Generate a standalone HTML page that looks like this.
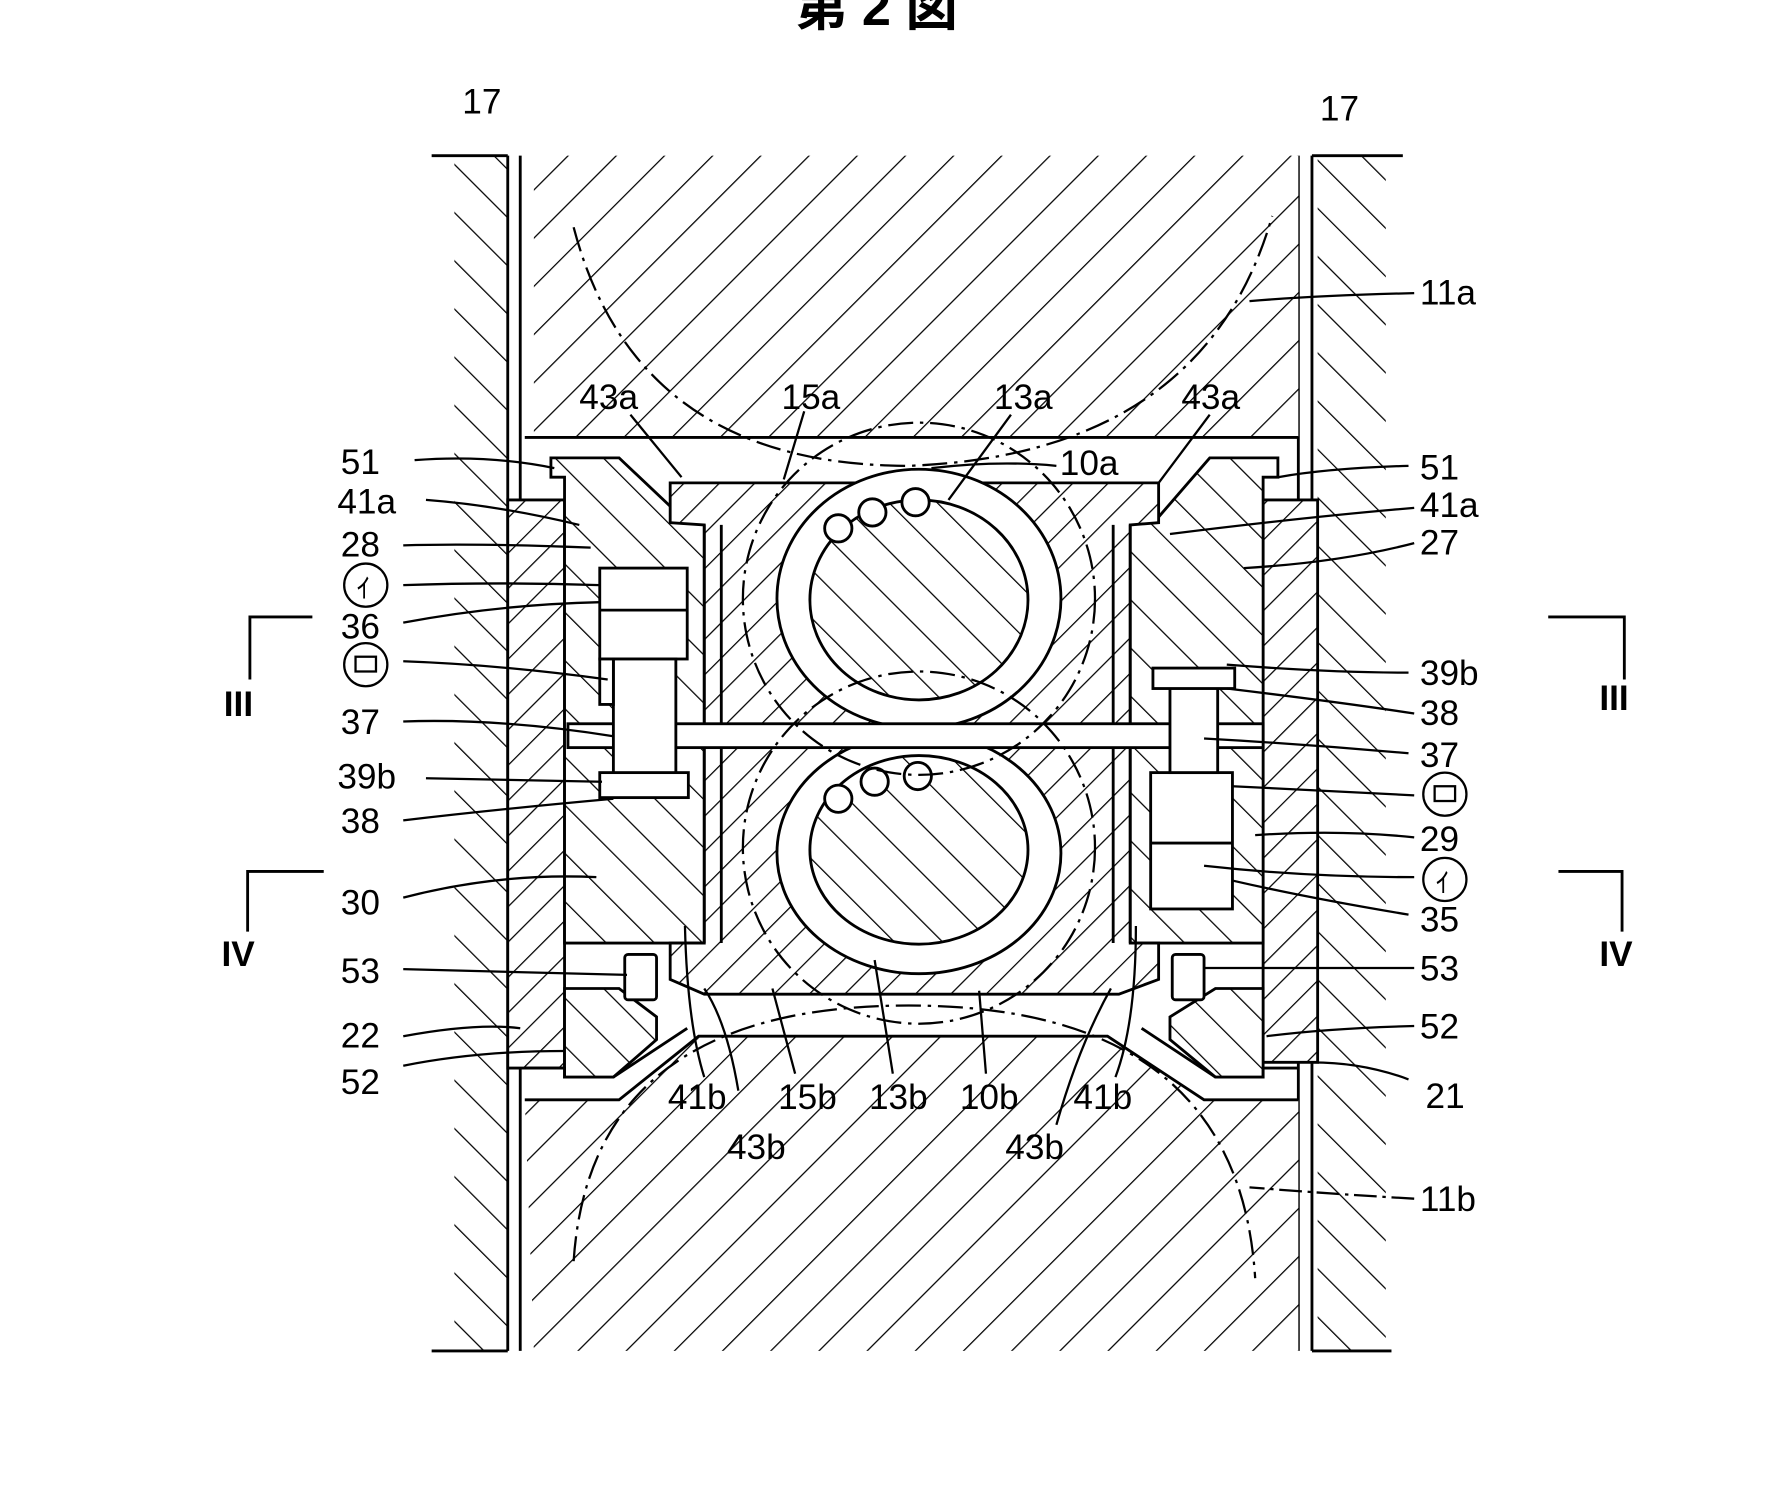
<!DOCTYPE html>
<html><head><meta charset="utf-8"><style>
html,body{margin:0;padding:0;background:#fff;}
svg{display:block;}
text{font-family:"Liberation Sans","Noto Sans CJK JP",sans-serif;font-size:31px;fill:#000;}
</style></head><body>
<svg width="1772" height="1510" viewBox="0 0 1560 1329" preserveAspectRatio="none" xmlns="http://www.w3.org/2000/svg">
<defs>
<pattern id="hf" patternUnits="userSpaceOnUse" width="30" height="30" patternTransform="rotate(45)"><rect width="30" height="30" fill="#fff"/><line x1="0" y1="0" x2="0" y2="30" stroke="#000" stroke-width="2.2"/></pattern>
<pattern id="hb" patternUnits="userSpaceOnUse" width="30" height="30" patternTransform="rotate(-45)"><rect width="30" height="30" fill="#fff"/><line x1="0" y1="0" x2="0" y2="30" stroke="#000" stroke-width="2.2"/></pattern>
<pattern id="hf2" patternUnits="userSpaceOnUse" width="22" height="22" patternTransform="rotate(45)"><rect width="22" height="22" fill="#fff"/><line x1="0" y1="0" x2="0" y2="22" stroke="#000" stroke-width="2.2"/></pattern>
<pattern id="hb2" patternUnits="userSpaceOnUse" width="22" height="22" patternTransform="rotate(-45)"><rect width="22" height="22" fill="#fff"/><line x1="0" y1="0" x2="0" y2="22" stroke="#000" stroke-width="2.2"/></pattern>
</defs>
<rect width="1560" height="1329" fill="#fff"/>
<text x="700" y="22" style="font-size:46px;font-weight:bold">第 2 図</text>

<g stroke="#000" stroke-width="2.5">
<rect x="400" y="137" width="47" height="1052" fill="url(#hb)" stroke="none"/>
<rect x="1160" y="137" width="60" height="1052" fill="url(#hb)" stroke="none"/>
<line x1="447" y1="137" x2="447" y2="1189"/><line x1="458" y1="137" x2="458" y2="1189"/>
<line x1="1143" y1="137" x2="1143" y2="1189"/><line x1="1155" y1="137" x2="1155" y2="1189"/>
<line x1="380" y1="137" x2="447" y2="137"/><line x1="380" y1="1189" x2="447" y2="1189"/>
<line x1="1155" y1="137" x2="1235" y2="137"/><line x1="1155" y1="1189" x2="1225" y2="1189"/>

<rect x="470" y="137" width="673" height="248" fill="url(#hf)" stroke="none"/>
<line x1="462" y1="385" x2="1143" y2="385"/>
<path d="M462,968 L545,968 L615,912 L975,912 L1060,968 L1143,968 L1143,1189 L470,1189 Z" fill="url(#hf)" stroke="none"/>
<path d="M462,968 L545,968 L615,912 L975,912 L1060,968 L1143,968" fill="none"/>

<path d="M447,440 L497,440 L497,940 L447,940 Z" fill="url(#hf2)"/>
<path d="M1112,440 L1160,440 L1160,935 L1112,935 Z" fill="url(#hf2)"/>

<path d="M485,403 L545,403 L600,455 L635,460 L635,830 L497,830 L497,420 L485,420 Z" fill="url(#hb)"/>
<path d="M1125,403 L1065,403 L1020,455 L978,460 L978,830 L1112,830 L1112,420 L1125,420 Z" fill="url(#hb)"/>

<path d="M590,425 L1020,425 L1020,460 L995,462 L995,830 L1020,830 L1020,862 L985,875 L620,875 L590,862 L590,830 L620,830 L620,462 L590,460 Z" fill="url(#hf2)"/>
<line x1="620" y1="462" x2="620" y2="830"/><line x1="635" y1="462" x2="635" y2="830"/>
<line x1="980" y1="462" x2="980" y2="830"/><line x1="995" y1="462" x2="995" y2="830"/>

<path d="M497,870 L545,870 L578,895 L578,915 L540,948 L497,948 Z" fill="url(#hb)"/>
<path d="M1112,870 L1070,870 L1030,895 L1030,915 L1070,948 L1112,948 Z" fill="url(#hb)"/>
<path d="M462,940 L497,940 L497,948 L540,948 L605,905" fill="none"/>
<path d="M1143,940 L1112,940 L1112,948 L1070,948 L1005,905" fill="none"/>

<ellipse cx="809" cy="527" rx="125" ry="114" fill="#fff"/>
<ellipse cx="809" cy="528" rx="96" ry="88" fill="url(#hb)"/>
<ellipse cx="809" cy="751" rx="125" ry="106" fill="#fff"/>
<ellipse cx="809" cy="748" rx="96" ry="83" fill="url(#hb)"/>
<g fill="#fff"><circle cx="738" cy="465" r="12"/><circle cx="768" cy="451" r="12"/><circle cx="806" cy="442" r="12"/>
<circle cx="738" cy="703" r="12"/><circle cx="770" cy="688" r="12"/><circle cx="808" cy="683" r="12"/></g>

<rect x="500" y="637" width="612" height="21" fill="#fff"/>

<rect x="528" y="500" width="77" height="80" fill="#fff"/>
<line x1="528" y1="537" x2="605" y2="537"/>
<rect x="540" y="580" width="55" height="105" fill="#fff"/>
<rect x="528" y="580" width="12" height="40" fill="#fff"/>
<rect x="528" y="680" width="78" height="22" fill="#fff"/>
<rect x="1013" y="680" width="72" height="120" fill="#fff"/>
<line x1="1013" y1="742" x2="1085" y2="742"/>
<rect x="1030" y="605" width="42" height="75" fill="#fff"/>
<rect x="1015" y="588" width="72" height="18" fill="#fff"/>

<rect x="550" y="840" width="28" height="40" rx="3" fill="#fff"/>
<rect x="1032" y="840" width="28" height="40" rx="3" fill="#fff"/>
</g>

<g fill="none" stroke="#000" stroke-width="2" stroke-dasharray="22,6,3,6">
<path d="M505,200 Q560,410 800,410 Q1060,400 1120,190"/>
<path d="M505,1110 Q520,885 800,885 Q1090,885 1105,1125"/>
<circle cx="809" cy="527" r="155"/>
<circle cx="809" cy="746" r="155"/>
</g>

<g stroke="#000" stroke-width="2.5" fill="none">
<path d="M275,543 L220,543 L220,598"/><path d="M285,767 L218,767 L218,820"/>
<path d="M1363,543 L1430,543 L1430,598"/><path d="M1372,767 L1428,767 L1428,820"/>
</g>
<g style="font-family:'Liberation Serif',serif;font-weight:bold;font-size:30px">
<text x="197" y="630">III</text><text x="195" y="850">IV</text>
<text x="1408" y="625">III</text><text x="1408" y="850">IV</text>
</g>

<g stroke="#000" stroke-width="2" fill="none">
<path d="M365,405 Q430,400 488,412"/>
<path d="M375,440 Q440,445 510,462"/>
<path d="M355,480 Q420,478 520,482"/>
<path d="M355,515 Q440,512 528,515"/>
<path d="M355,548 Q440,532 528,530"/>
<path d="M355,582 Q440,585 535,598"/>
<path d="M355,635 Q440,632 540,648"/>
<path d="M375,685 L530,688"/>
<path d="M355,722 Q440,712 540,703"/>
<path d="M355,790 Q440,768 525,772"/>
<path d="M355,853 L552,858"/>
<path d="M355,912 Q420,900 458,905"/>
<path d="M355,938 Q420,925 497,925"/>
<path d="M1240,410 Q1170,412 1125,420"/>
<path d="M1245,447 Q1150,455 1030,470"/>
<path d="M1245,478 Q1180,495 1095,500"/>
<path d="M1240,592 Q1170,592 1080,585"/>
<path d="M1245,628 Q1180,618 1080,606"/>
<path d="M1240,663 Q1150,655 1060,650"/>
<path d="M1245,700 L1085,692"/>
<path d="M1245,737 Q1180,730 1105,735"/>
<path d="M1245,772 Q1150,772 1060,762"/>
<path d="M1240,805 Q1150,790 1085,775"/>
<path d="M1245,852 L1060,852"/>
<path d="M1245,903 Q1170,905 1115,912"/>
<path d="M1240,950 Q1200,935 1155,935"/>
<path d="M1245,258 Q1160,260 1100,265"/>
<path d="M1245,1055 Q1160,1050 1100,1045" stroke-dasharray="20,5,3,5"/>
<path d="M555,365 L600,420"/>
<path d="M708,362 L690,422"/>
<path d="M890,365 L835,440"/>
<path d="M930,410 Q880,405 820,412"/>
<path d="M1065,365 L1020,425"/>
<path d="M620,948 Q605,900 603,815"/>
<path d="M650,960 Q640,900 620,870"/>
<path d="M700,945 L680,870"/>
<path d="M786,945 L770,845"/>
<path d="M868,945 L862,872"/>
<path d="M982,948 Q1000,900 1000,815"/>
<path d="M930,990 Q950,920 978,870"/>
</g>

<text x="407" y="100">17</text>
<text x="1162" y="106">17</text>
<text x="1250" y="268">11a</text>
<text x="1250" y="1066">11b</text>
<text x="510" y="360">43a</text>
<text x="688" y="360">15a</text>
<text x="875" y="360">13a</text>
<text x="1040" y="360">43a</text>
<text x="933" y="418">10a</text>
<text x="300" y="417">51</text>
<text x="297" y="452">41a</text>
<text x="300" y="490">28</text>
<text x="300" y="562">36</text>
<text x="300" y="646">37</text>
<text x="297" y="694">39b</text>
<text x="300" y="733">38</text>
<text x="300" y="805">30</text>
<text x="300" y="865">53</text>
<text x="300" y="922">22</text>
<text x="300" y="963">52</text>
<text x="1250" y="422">51</text>
<text x="1250" y="455">41a</text>
<text x="1250" y="488">27</text>
<text x="1250" y="603">39b</text>
<text x="1250" y="638">38</text>
<text x="1250" y="675">37</text>
<text x="1250" y="749">29</text>
<text x="1250" y="820">35</text>
<text x="1250" y="863">53</text>
<text x="1250" y="914">52</text>
<text x="1255" y="975">21</text>
<text x="588" y="976">41b</text>
<text x="685" y="976">15b</text>
<text x="765" y="976">13b</text>
<text x="845" y="976">10b</text>
<text x="945" y="976">41b</text>
<text x="640" y="1020">43b</text>
<text x="885" y="1020">43b</text>
<g stroke="#000" stroke-width="2" fill="none">
<circle cx="322" cy="515" r="19"/><circle cx="322" cy="585" r="19"/><rect x="313" y="578" width="18" height="13"/>
<circle cx="1272" cy="699" r="19"/><rect x="1263" y="692" width="18" height="13"/><circle cx="1272" cy="774" r="19"/>
</g>
<text x="314" y="526" style="font-size:24px">ｲ</text>
<text x="1264" y="785" style="font-size:24px">ｲ</text>
</svg>
</body></html>
